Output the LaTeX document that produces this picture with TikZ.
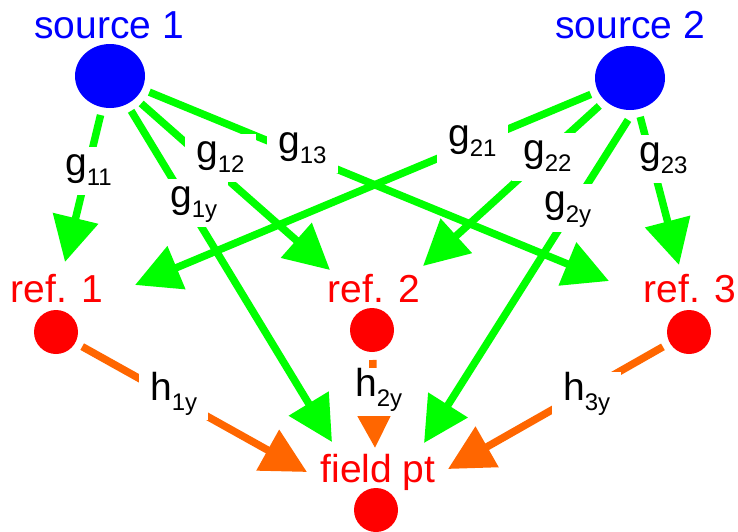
\documentclass[tikz,border=0pt]{standalone}
\usepackage{fontspec}
\setmainfont{Liberation Sans}
\usetikzlibrary{arrows.meta,shapes.geometric}
\definecolor{gline}{RGB}{0,255,0}
\definecolor{hline}{RGB}{255,102,0}
\definecolor{srcblue}{RGB}{0,0,255}
\definecolor{refred}{RGB}{255,0,0}
\newcommand{\coef}[2]{#1\raisebox{-10pt}{\fontsize{24}{29}\selectfont #2}}

\begin{document}
\begin{tikzpicture}[x=1pt,y=-1pt,
  every node/.style={font=\fontsize{39}{47}\selectfont},
  src/.style={ellipse,fill=srcblue,minimum width=70pt,minimum height=64pt,
    inner sep=0pt,outer sep=0pt},
  refpt/.style={circle,fill=refred,minimum size=44pt,inner sep=0pt,outer sep=0pt},
  ptname/.style={anchor=base,inner sep=0pt},
  gpath/.style={line width=7.5pt,gline,shorten <=8pt,
    -{Triangle[length=45pt,width=45pt]}},
  hpath/.style={gpath,hline},
  coefbox/.style={anchor=base west,fill=white,inner xsep=11pt,inner ysep=2pt,
    text height=26pt,text depth=18pt}]
  \useasboundingbox (0,0) rectangle (738,531);
  % Sources
  \node[src] (s1) at (110,76) {};
  \node[src] (s2) at (630,78) {};
  \node[ptname,text=srcblue] (s1name) at (109,38) {source 1};
  \node[ptname,text=srcblue] (s2name) at (630,38) {source 2};
  % Reference points and field point
  \node[refpt] (r1) at (56,332) {};
  \node[refpt] (r2) at (372,330) {};
  \node[refpt] (r3) at (689,332) {};
  \node[refpt] (fp) at (376,510) {};
  \node[ptname,text=refred] (r1name) at (57,302) {ref. 1};
  \node[ptname,text=refred] (r2name) at (374,302) {ref. 2};
  \node[ptname,text=refred] (r3name) at (690,302) {ref. 3};
  \node[ptname,text=refred] (fpname) at (378,482) {field pt};
  % Arrow tips
  \coordinate (t11) at (65,262);
  \coordinate (t12) at (330,270);
  \coordinate (t13) at (609,281);
  \coordinate (t1y) at (332,442);
  \coordinate (t21) at (135,285);
  \coordinate (t22) at (423,266);
  \coordinate (t23) at (679,265);
  \coordinate (t2y) at (424,443);
  \coordinate (th1) at (307,472);
  \coordinate (th2) at (375,448);
  \coordinate (th3) at (448,469);
  % Transfer paths
  \draw[gpath] (s1) -- (t11);
  \draw[gpath] (s1) -- (t12);
  \draw[gpath] (s1) -- (t13);
  \draw[gpath] (s1) -- (t1y);
  \draw[gpath] (s2) -- (t21);
  \draw[gpath] (s2) -- (t22);
  \draw[gpath] (s2) -- (t23);
  \draw[gpath,shorten <=12pt] (s2.-82) -- (t2y);
  \draw[hpath] (r1) -- (th1);
  \draw[hpath] (r2) -- (th2);
  \draw[hpath] (r3) -- (th3);
  % Labels
  \node[coefbox] (g11) at (54,175) {\coef{g}{11}};
  \node[coefbox] (g12) at (185,162) {\coef{g}{12}};
  \node[coefbox] (g13) at (267,153) {\coef{g}{13}};
  \node[coefbox] (g1y) at (159,207) {\coef{g}{1y}};
  \node[coefbox] (g21) at (437,146) {\coef{g}{21}};
  \node[coefbox] (g22) at (512,161) {\coef{g}{22}};
  \node[coefbox] (g2y) at (533,212) {\coef{g}{2y}};
  \node[coefbox] (g23) at (628,163) {\coef{g}{23}};
  \node[coefbox] (h1y) at (139,400) {\coef{h}{1y}};
  \node[coefbox] (h2y) at (344,396) {\coef{h}{2y}};
  \node[coefbox] (h3y) at (552,400) {\coef{h}{3y}};
\end{tikzpicture}
\end{document}
